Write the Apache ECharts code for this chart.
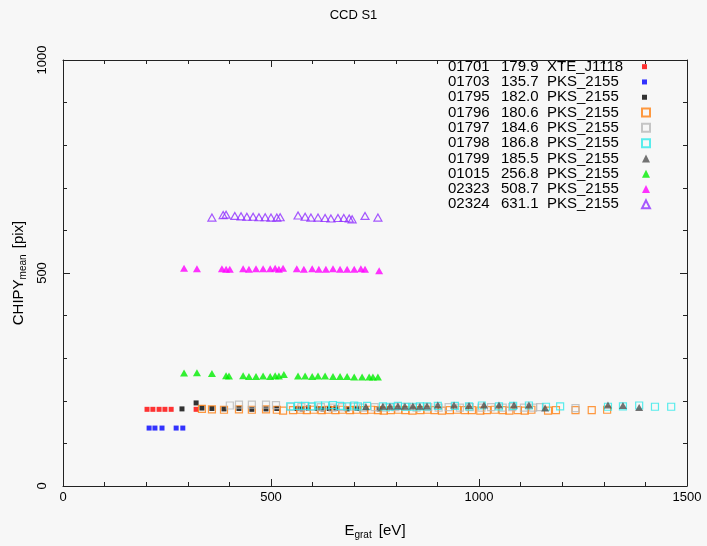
<!DOCTYPE html>
<html>
<head>
<meta charset="utf-8">
<script src="https://cdn.jsdelivr.net/npm/echarts@6/dist/echarts.min.js"></script>
<style>
  html, body { margin: 0; padding: 0; background: #f7f7f7; }
  #chart { width: 707px; height: 546px; }
</style>
</head>
<body>
<div id="chart"></div>
<script>
// legend columns
var obsIds = ["01701", "01703", "01795", "01796", "01797", "01798", "01799", "01015", "02323", "02324"];
var meanY = ["179.9", "135.7", "182.0", "180.6", "184.6", "186.8", "185.5", "256.8", "508.7", "631.1"];
var targets = ["XTE_J1118", "PKS_2155", "PKS_2155", "PKS_2155", "PKS_2155", "PKS_2155", "PKS_2155", "PKS_2155", "PKS_2155", "PKS_2155"];

// measured points per obsid (energy eV, chipy pix)
var x01701 = [202, 216, 231, 245, 260, 320];
var y01701 = [180, 180, 180, 180, 180, 180];

var x01703 = [207, 221, 238, 272, 288];
var y01703 = [136, 136, 136, 136, 136];

var x01795 = [286, 320, 334, 358, 387, 423, 454, 488, 514, 562, 575, 590, 611, 625, 640, 656, 683, 707, 760];
var y01795 = [181, 195, 183, 182, 181, 182, 180, 181, 182, 182, 181, 183, 182, 181, 182, 183, 181, 182, 181];

var x01796 = [334, 358, 387, 423, 454, 488, 514, 529, 553, 571, 586, 603, 622, 637, 655, 671, 690, 705, 724, 741, 757,
  771, 788, 806, 823, 840, 859, 876, 893, 911, 930, 947, 966, 983, 1003, 1019, 1038, 1057, 1073, 1093, 1110, 1126,
  1166, 1185, 1232, 1271, 1308];
var y01796 = [181, 180, 179, 180, 179, 180, 179, 177, 178, 179, 178, 179, 178, 179, 178, 179, 178, 179, 178, 179, 178,
  177, 178, 179, 178, 177, 178, 179, 178, 177, 178, 179, 178, 178, 177, 178, 179, 178, 177, 178, 177, 179,
  177, 178, 178, 178, 179];

var x01797 = [401, 423, 454, 488, 512, 548, 573, 597, 620, 648, 671, 698, 721, 749, 776, 799, 827, 850, 878, 903, 927,
  954, 978, 1006, 1029, 1057, 1080, 1108, 1130, 1147, 1232];
var y01797 = [189, 191, 191, 191, 190, 186, 185, 186, 185, 184, 185, 186, 184, 185, 184, 185, 186, 184, 185, 184, 185,
  184, 185, 184, 185, 184, 185, 184, 184, 185, 183];

var x01798 = [546, 565, 582, 599, 613, 630, 649, 666, 683, 700, 709, 731, 769, 786, 805, 822, 841, 858, 875, 901,
  942, 976, 1007, 1048, 1082, 1120, 1161, 1195, 1310, 1346, 1385, 1423, 1462];
var y01798 = [187, 188, 188, 187, 189, 189, 190, 188, 187, 189, 187, 188, 187, 186, 188, 186, 186, 187, 187, 188,
  188, 187, 189, 187, 188, 189, 186, 187, 186, 187, 189, 186, 186];

var x01799 = [728, 769, 786, 805, 822, 841, 858, 875, 901, 940, 976, 1012, 1048, 1084, 1120, 1159, 1310, 1346, 1385];
var y01799 = [186, 187, 187, 188, 187, 188, 187, 188, 190, 190, 189, 190, 190, 190, 190, 183, 190, 189, 184];

var x01015 = [291, 322, 358, 392, 399, 433, 447, 464, 481, 498, 510, 519, 531, 565, 582, 599, 613, 630, 649, 666,
  683, 700, 719, 736, 745, 757];
var y01015 = [265, 266, 264, 259, 258, 259, 257, 257, 258, 257, 259, 258, 262, 258, 258, 257, 258, 258, 257, 257,
  257, 256, 256, 256, 256, 256];

var x02323 = [291, 322, 382, 392, 401, 433, 447, 464, 481, 498, 510, 519, 529, 562, 579, 599, 615, 632, 649, 666,
  683, 700, 716, 726, 760];
var y02323 = [511, 510, 510, 509, 509, 510, 509, 510, 510, 510, 511, 509, 511, 510, 509, 510, 509, 509, 510, 509,
  509, 509, 510, 509, 505];

var x02324 = [358, 385, 392, 413, 428, 442, 457, 471, 486, 500, 514, 522, 565, 582, 596, 613, 630, 644, 661, 675,
  688, 695, 726, 757];
var y02324 = [630, 636, 637, 634, 633, 632, 632, 631, 631, 630, 630, 631, 635, 632, 630, 630, 629, 628, 629, 629,
  628, 626, 634, 630];

var xTicks = [0, 500, 1000, 1500];
var yTicks = [0, 500, 1000];

var chartDom = document.getElementById("chart");
var myChart = echarts.init(chartDom);
var font = "Liberation Sans";

function pts(xs, ys) {
  return xs.map(function (x, i) { return [x, ys[i]]; });
}

var solid = function (c) { return { color: c }; };
var hollow = function (c) { return { color: "rgba(0,0,0,0)", borderColor: c, borderWidth: 1.2 }; };

var looks = [
  { d: pts(x01701, y01701), symbol: "rect", size: 5, style: solid("#ff0000") },
  { d: pts(x01703, y01703), symbol: "rect", size: 5, style: solid("#0000ff") },
  { d: pts(x01795, y01795), symbol: "rect", size: 5, style: solid("#000000") },
  { d: pts(x01796, y01796), symbol: "rect", size: 7, style: hollow("#ff8010") },
  { d: pts(x01797, y01797), symbol: "rect", size: 7, style: hollow("#b8b8b8") },
  { d: pts(x01798, y01798), symbol: "rect", size: 7, style: hollow("#30e8e8") },
  { d: pts(x01799, y01799), symbol: "triangle", size: [8, 7], style: solid("#505050") },
  { d: pts(x01015, y01015), symbol: "triangle", size: [8, 7], style: solid("#00ee00") },
  { d: pts(x02323, y02323), symbol: "triangle", size: [8, 7], style: solid("#ff00ff") },
  { d: pts(x02324, y02324), symbol: "triangle", size: [8, 7], style: hollow("#9030ff") }
];

var names = obsIds.map(function (id, i) { return id + " " + meanY[i] + " " + targets[i]; });

var series = looks.map(function (s, i) {
  return {
    name: names[i],
    type: "scatter",
    data: s.d,
    symbol: s.symbol,
    symbolSize: s.size,
    itemStyle: s.style,
    silent: true
  };
});

var legendText = {
  fontFamily: font,
  fontSize: 15,
  color: "#000",
  lineHeight: 15.3,
  rich: {
    a: { fontFamily: font, fontSize: 15, width: 53, lineHeight: 15.3, align: "left" },
    b: { fontFamily: font, fontSize: 15, width: 46, lineHeight: 15.3, align: "left" },
    c: { fontFamily: font, fontSize: 15, width: 90, lineHeight: 15.3, align: "left" }
  }
};
function legendFmt(name) {
  var p = name.split(" ");
  return "{a|" + p[0] + "}{b|" + p[1] + "}{c|" + p[2] + "}";
}

var axisLine = { show: true, onZero: false, lineStyle: { color: "#222", width: 1 } };
var tick = { show: true, inside: true, length: 7, lineStyle: { color: "#222" } };
var minor = { show: true, splitNumber: 5, length: 4, lineStyle: { color: "#222" } };
var labelFont = { fontFamily: font, fontSize: 13, color: "#000" };
var plain = function (v) { return String(v); };

var option = {
  backgroundColor: "#f7f7f7",
  animation: false,
  title: {
    text: "CCD S1",
    left: "center",
    top: 4,
    textStyle: { fontFamily: font, fontSize: 13, fontWeight: "normal", color: "#000" }
  },
  legend: [
    {
      data: names.slice(0, 3),
      orient: "vertical",
      left: 448,
      top: 59,
      padding: 0,
      align: "right",
      itemGap: 0,
      itemWidth: 5,
      itemHeight: 5,
      selectedMode: false,
      formatter: legendFmt,
      textStyle: legendText
    },
    {
      data: names.slice(3),
      orient: "vertical",
      left: 448,
      top: 59 + 3 * 15.3,
      padding: 0,
      align: "right",
      itemGap: 0,
      itemWidth: 8,
      itemHeight: 8,
      selectedMode: false,
      formatter: legendFmt,
      textStyle: legendText
    }
  ],
  grid: { left: 63, right: 20, top: 60, bottom: 60 },
  xAxis: [
    {
      type: "value",
      min: xTicks[0],
      max: xTicks[xTicks.length - 1],
      interval: xTicks[1] - xTicks[0],
      position: "bottom",
      axisLine: axisLine,
      axisTick: tick,
      minorTick: minor,
      splitLine: { show: false },
      axisLabel: Object.assign({ margin: 5, formatter: plain }, labelFont),
      name: "E{sub|grat} [eV]",
      nameLocation: "middle",
      nameGap: 35,
      nameTextStyle: {
        fontFamily: font, fontSize: 15, color: "#000",
        rich: { sub: { fontFamily: font, fontSize: 10, padding: [9, 3, 0, 0] } }
      }
    },
    {
      type: "value",
      min: xTicks[0],
      max: xTicks[xTicks.length - 1],
      interval: xTicks[1] - xTicks[0],
      position: "top",
      axisLine: axisLine,
      axisTick: tick,
      minorTick: minor,
      splitLine: { show: false },
      axisLabel: { show: false }
    }
  ],
  yAxis: [
    {
      type: "value",
      min: yTicks[0],
      max: yTicks[yTicks.length - 1],
      interval: yTicks[1] - yTicks[0],
      position: "left",
      axisLine: axisLine,
      axisTick: tick,
      minorTick: minor,
      splitLine: { show: false },
      axisLabel: Object.assign({ rotate: 90, margin: 14, formatter: plain }, labelFont),
      name: "CHIPY{sub|mean} [pix]",
      nameLocation: "middle",
      nameRotate: 90,
      nameGap: 33,
      nameTextStyle: {
        fontFamily: font, fontSize: 15, color: "#000",
        rich: { sub: { fontFamily: font, fontSize: 10, padding: [9, 2, 0, 0] } }
      }
    },
    {
      type: "value",
      min: yTicks[0],
      max: yTicks[yTicks.length - 1],
      interval: yTicks[1] - yTicks[0],
      position: "right",
      axisLine: axisLine,
      axisTick: tick,
      minorTick: minor,
      splitLine: { show: false },
      axisLabel: { show: false }
    }
  ],
  series: series
};

option && myChart.setOption(option);
</script>
</body>
</html>
